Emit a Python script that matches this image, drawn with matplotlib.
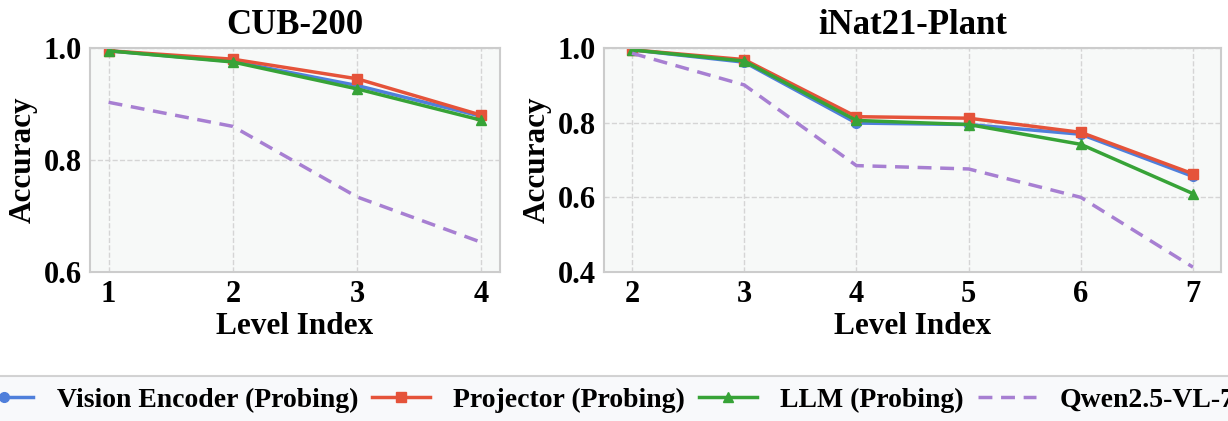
import matplotlib
matplotlib.use("Agg")
import matplotlib.pyplot as plt

plt.rcParams['font.family'] = ['Liberation Serif', 'DejaVu Serif']
plt.rcParams['font.weight'] = 'bold'

# CUB-200
cub_levels = [1, 2, 3, 4]
cub_vision = [0.995, 0.976, 0.933, 0.878]
cub_projector = [0.995, 0.980, 0.945, 0.880]
cub_llm = [0.995, 0.975, 0.927, 0.871]
cub_qwen = [0.903, 0.860, 0.734, 0.653]

# iNat21-Plant
inat_levels = [2, 3, 4, 5, 6, 7]
inat_vision = [0.995, 0.962, 0.799, 0.795, 0.769, 0.656]
inat_projector = [0.995, 0.969, 0.816, 0.812, 0.774, 0.663]
inat_llm = [0.995, 0.965, 0.806, 0.795, 0.742, 0.610]
inat_qwen = [0.986, 0.901, 0.685, 0.676, 0.600, 0.413]

labels = ["Vision Encoder (Probing)", "Projector (Probing)", "LLM (Probing)", "Qwen2.5-VL-7B"]
colors = ["#4f7fdb", "#e5533a", "#37a337", "#a77fd2"]


def draw_panel(ax, x, vision, projector, llm, qwen, title, ylim, yticks):
    """Draws one panel of the level-wise accuracy plot."""
    ax.set_facecolor("#f7f9f8")
    ax.plot(x, vision, color=colors[0], marker="o", lw=2.5, ms=7, label=labels[0])
    ax.plot(x, projector, color=colors[1], marker="s", lw=2.5, ms=7, label=labels[1])
    ax.plot(x, llm, color=colors[2], marker="^", lw=2.5, ms=7, label=labels[2])
    ax.plot(x, qwen, color=colors[3], ls="--", lw=2.5, dashes=(4, 2.5), label=labels[3])
    ax.set_ylim(*ylim)
    ax.set_yticks(yticks)
    ax.set_xticks(x)
    ax.grid(True, ls="--", color="#d5d5d5", lw=1)
    ax.set_axisbelow(True)
    for s in ax.spines.values():
        s.set_color("#cccccc")
        s.set_linewidth(1.5)
    ax.tick_params(labelsize=22, length=0, pad=6)
    for lab in ax.get_xticklabels() + ax.get_yticklabels():
        lab.set_fontweight("bold")
    ax.set_title(title, fontsize=25, fontweight="bold", pad=10)
    ax.set_xlabel("Level Index", fontsize=22.5, fontweight="bold", labelpad=2)
    ax.set_ylabel("Accuracy", fontsize=22.5, fontweight="bold", labelpad=4)


fig = plt.figure(figsize=(12.28, 4.21), dpi=100)
ax1 = fig.add_axes([90 / 1228, 1 - 272 / 421, 410 / 1228, 224 / 421])
ax2 = fig.add_axes([604 / 1228, 1 - 272 / 421, 617 / 1228, 224 / 421])

draw_panel(ax1, cub_levels, cub_vision, cub_projector, cub_llm, cub_qwen,
           "CUB-200", (0.6, 1.0), [0.6, 0.8, 1.0])
draw_panel(ax2, inat_levels, inat_vision, inat_projector, inat_llm, inat_qwen,
           "iNat21-Plant", (0.4, 1.0), [0.4, 0.6, 0.8, 1.0])

handles, labs = ax1.get_legend_handles_labels()
leg = fig.legend(handles, labs, loc="upper center", bbox_to_anchor=(0.5, 1 - 376 / 421),
                 borderaxespad=0, ncol=4, fontsize=20, frameon=True, fancybox=False,
                 handlelength=2.1, handletextpad=0.83, columnspacing=0.5)
leg.get_frame().set_facecolor("#f7f8fa")
leg.get_frame().set_edgecolor("#c8c8c8")
leg.get_frame().set_linewidth(1.5)
for t in leg.get_texts():
    t.set_fontweight("bold")

fig.savefig("out.png", dpi=100)
